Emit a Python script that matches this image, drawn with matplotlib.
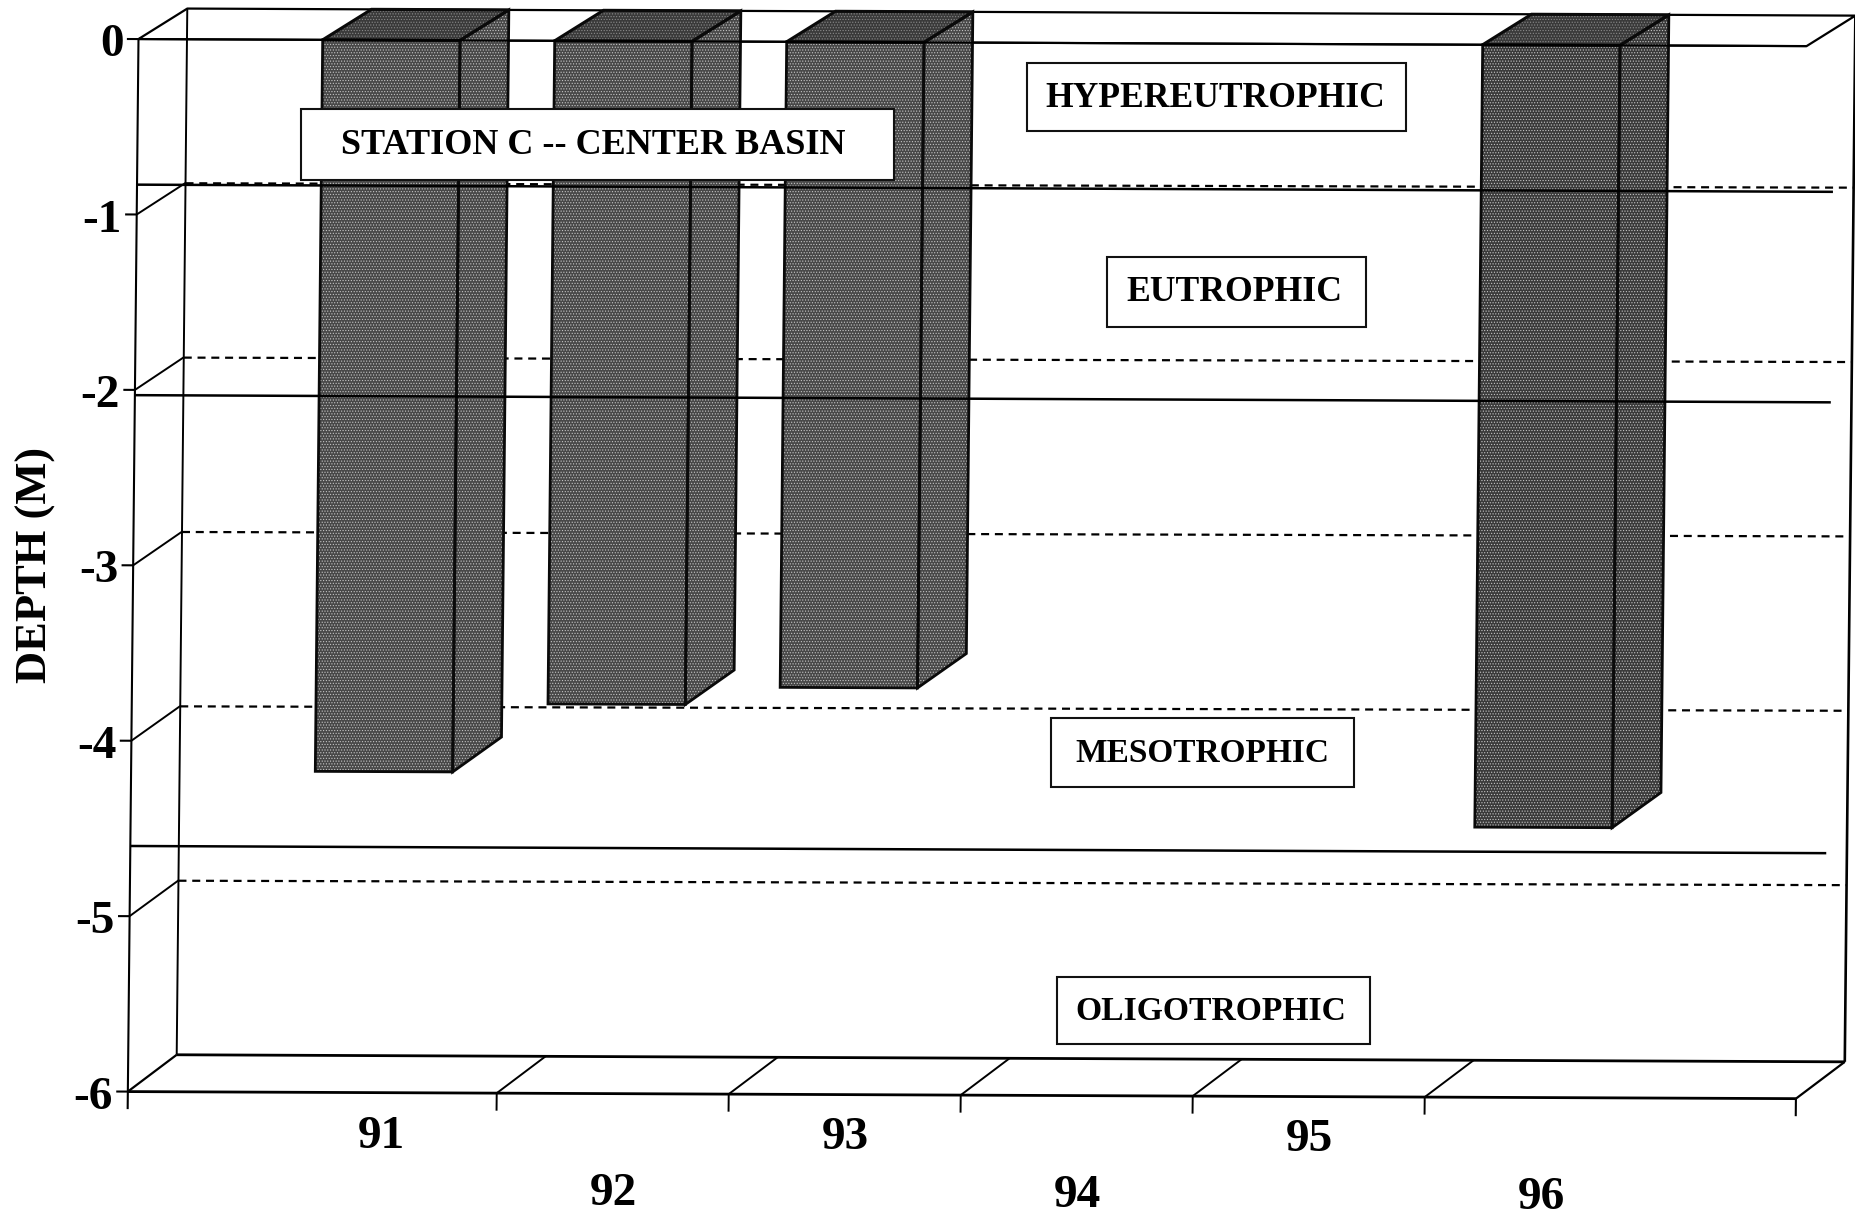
"""Station C depth chart, 3D-style bars redrawn with plain matplotlib"""
import numpy as np
import matplotlib
matplotlib.use("Agg")
import matplotlib.pyplot as plt
from matplotlib.patches import Polygon, Rectangle
from matplotlib.transforms import Affine2D

plt.rcParams["font.family"] = ["Liberation Serif", "DejaVu Serif"]
plt.rcParams["hatch.linewidth"] = 0.5

# data
years = ["91", "92", "93", "94", "95", "96"]
depths = [-4.17, -3.78, -3.68, np.nan, np.nan, -4.46]
depth_ticks = [0, -1, -2, -3, -4, -5, -6]
dashed_levels = [-1, -2, -3, -4, -5]
class_limits = [-0.83, -2.03, -4.6]
class_names = ["HYPEREUTROPHIC", "EUTROPHIC", "MESOTROPHIC", "OLIGOTROPHIC"]
station_name = "STATION C -- CENTER BASIN"

W, H = 1856, 1213
S = W / 1568  # layout numbers below were measured on the 1568 wide view

XMIN, XMAX = -1.09, 6.1
DX = 0.209  # offset of the back wall, in data units
BAR_W = 0.592

fig = plt.figure(figsize=(W / 100, H / 100), dpi=100, facecolor="white")
ax = fig.add_axes([117 * S / W, 1 - (33.9 + 148.2 * 6) * S / H,
                   196 * (XMAX - XMIN) * S / W, 148.2 * 6 * S / H])
ax.set_xlim(XMIN, XMAX)
ax.set_ylim(-6, 0)
ax.axis("off")

# page is slightly skewed in the scan
tr = Affine2D.from_values(1, -0.0056, 0.00765, 1, 0, 0) + ax.transData
back_tr = Affine2D.from_values(1, -0.0035, 0.00765, 1, 0, 0) + ax.transData
page = Affine2D().scale(S, -S).translate(0, H)


def back(d):
    # depth on the back wall, which is a little shorter than the front
    return d + 0.175 - d * 0.006


def line(xs, ys, lw=1.5, ls="-", z=2, trans=tr):
    ax.plot(xs, ys, color="black", lw=lw, ls=ls, transform=trans, clip_on=False,
            zorder=z, solid_capstyle="butt")


# walls and floor
line([XMIN, XMIN], [0, -6.1])
line([XMIN + DX, XMIN + DX], [back(0), back(-6)], lw=1.4)
line([XMAX + DX, XMAX + DX], [back(0), back(-6)], lw=1.9)
line([XMIN, XMAX, XMAX + DX, XMIN + DX, XMIN], [0, 0, back(0), back(0), 0], lw=1.6)
line([XMIN + DX, XMAX + DX], [back(-6), back(-6)], lw=2.0)
line([XMIN, XMAX], [-6, -6], lw=2.0)
line([XMAX, XMAX + DX], [-6, back(-6)], lw=1.6)
line([XMAX, XMAX], [-6, -6.1], lw=1.5)
line([XMIN, XMIN + DX], [-6, back(-6)], lw=1.6)

for d in depth_ticks:
    line([XMIN - 0.05, XMIN], [d, d])
    if d not in (0, -6):
        line([XMIN, XMIN + DX], [d, back(d)], lw=1.4)
    ax.text(XMIN - 0.065, d - 0.035, str(d), transform=tr, ha="right", va="center",
            fontsize=34, fontweight="bold", clip_on=False, zorder=6)

for i in range(len(years) - 1):
    t = i + 0.5
    line([t, t], [-6, -6.1], lw=1.4)
    line([t, t + DX], [-6, back(-6)], lw=1.4)

# dashed grid sags less than the solid lines in the scan
for d in dashed_levels:
    line([XMIN + DX, XMAX + DX], [back(d), back(d)], lw=1.6, ls=(0, (3.6, 2.6)), z=1,
         trans=back_tr)

# bars
for i, d in enumerate(depths):
    if np.isnan(d):
        continue
    x0, x1 = i - BAR_W / 2, i + BAR_W / 2
    front = [(x0, 0), (x1, 0), (x1, d), (x0, d)]
    side = [(x1, 0), (x1 + DX, back(0)), (x1 + DX, back(d)), (x1, d)]
    top = [(x0, 0), (x0 + DX, back(0)), (x1 + DX, back(0)), (x1, 0)]
    shade = "#3a3a3a" if i == 5 else "#484848"
    for face in (front, side):
        ax.add_patch(Polygon(face, closed=True, facecolor=shade, edgecolor="#c4c4c4",
                             hatch="......", lw=0, transform=tr, zorder=3, clip_on=False))
        ax.add_patch(Polygon(face, closed=True, fill=False, edgecolor="#0a0a0a",
                             lw=2.0, transform=tr, zorder=3.2, clip_on=False))
    ax.add_patch(Polygon(top, closed=True, facecolor="#3a3a3a", edgecolor="#8a8a8a",
                         hatch="......", lw=0, transform=tr, zorder=3, clip_on=False))
    ax.add_patch(Polygon(top, closed=True, fill=False, edgecolor="#0a0a0a",
                         lw=2.2, transform=tr, zorder=3.2, clip_on=False))

# trophic limits run across the bars
for d in class_limits:
    line([XMIN, 6.22], [d, d], lw=1.8, z=4)
line([XMIN, XMAX], [0, 0], lw=1.5, z=4)


def label_box(text, x0, y0, x1, y1, xc, size):
    ax.add_patch(Rectangle((x0, y0), x1 - x0, y1 - y0, facecolor="white", edgecolor="#111111",
                           lw=1.5, transform=page, zorder=5, clip_on=False))
    ax.text(xc, (y0 + y1) / 2 + 1, text, transform=page, ha="center", va="center",
            fontsize=size, fontweight="bold", zorder=6, clip_on=False)


label_box(station_name, 254, 92, 755, 152, 501.5, 26)
label_box(class_names[0], 868, 53, 1188, 111, 1026.5, 25.6)
label_box(class_names[1], 935, 217, 1154, 276, 1042.5, 25.7)
label_box(class_names[2], 888, 607, 1144, 665, 1016, 24)
label_box(class_names[3], 893, 825, 1157, 882, 1023, 24.2)

# staggered year labels
for i, year in enumerate(years):
    y_lab = -6.25 if i % 2 == 0 else -6.57
    ax.text(i + 0.006, y_lab, year, transform=tr, ha="center", va="center",
            fontsize=34, fontweight="bold", clip_on=False)

ax.text(30, 477, "DEPTH (M)", transform=page, rotation=90, ha="center", va="center",
        fontsize=32, fontweight="bold", clip_on=False)

fig.savefig("out.png", dpi=100)
plt.close(fig)
